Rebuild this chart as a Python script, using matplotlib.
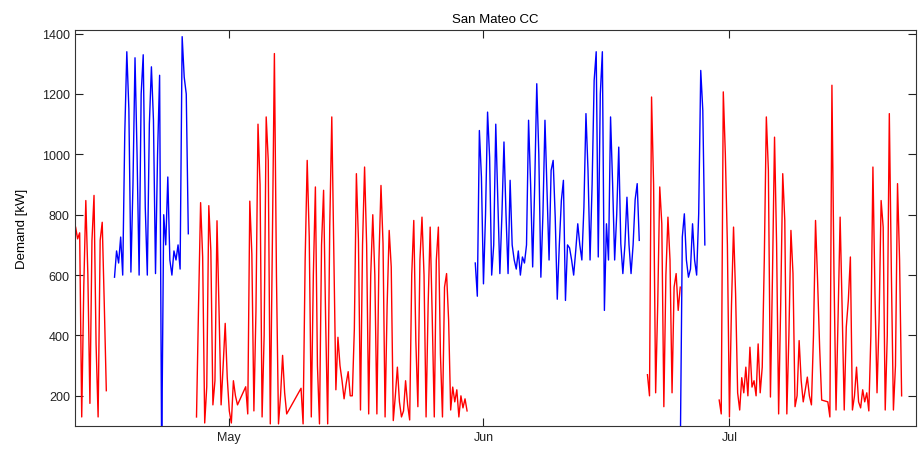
import matplotlib
matplotlib.use('Agg')
import matplotlib.pyplot as plt
import matplotlib.dates as mdates
import numpy as np
import pandas as pd

nan = np.nan

# Building demand in kW, one reading every 6 hours (00, 06, 12, 18h) from each block's start.
# Red blocks are one data source, blue blocks the other; gaps inside a block are nan.
red_apr_start = '2010-04-12 00:00'
red_apr = [480, 760, 720, 740,
           130, 560, 847, 600,
           175, 715, 864, 372,
           130, 715, 775, 505,
           217]

blue_apr_start = '2010-04-17 00:00'
blue_apr = [593, 680, 640, 726,
            600, 1068, 1340, 1150,
            610, 900, 1320, 1000,
            600, 1200, 1330, 825,
            600, 1100, 1290, 1113,
            605, 1000, 1262, 0,
            800, 700, 925, 650,
            600, 680, 650, 700,
            620, 1390, 1256, 1200,
            737]

red_may_start = '2010-04-27 00:00'
red_may = [130, 500, 840, 660,
           110, 230, 830, 680,
           170, 250, 780, 480,
           170, 300, 440, 260,
           150, 110, 250, 200,
           170, nan, nan, nan,
           230, 140, 845, 670,
           150, 480, 1100, 900,
           130, 400, 1124, 980,
           107, 700, 1334, 600,
           107, 200, 334, 210,
           140, nan, nan, nan,
           nan, nan, nan, 225,
           107, 650, 980, 726,
           130, 600, 892, 300,
           107, 700, 881, 450,
           107, 760, 1124, 670,
           220, 394, 300, 250,
           190, 240, 280, 200,
           200, 420, 936, 715,
           153, 700, 958, 700,
           140, 600, 800, 600,
           140, 650, 897, 704,
           130, 500, 748, 627,
           118, 200, 295, 180,
           130, 150, 250, 170,
           120, 600, 781, 383,
           164, 650, 792, 600,
           130, 500, 759, 461,
           130, 650, 759, 339,
           130, 560, 605, 450,
           153, 229, 180, 220,
           130, 200, 160, 190,
           150]

blue_jun_start = '2010-05-31 00:00'
blue_jun = [640, 530, 1079, 925,
            571, 800, 1140, 990,
            600, 700, 1100, 847,
            605, 800, 1041, 800,
            605, 914, 700, 650,
            620, 680, 600, 660,
            640, 700, 1113, 900,
            627, 900, 1234, 1000,
            593, 800, 1113, 881,
            650, 947, 980, 792,
            520, 700, 847, 914,
            516, 700, 690, 650,
            600, 680, 770, 700,
            650, 825, 1135, 947,
            650, 900, 1245, 1340,
            660, 1200, 1340, 483,
            770, 650, 1124, 903,
            650, 800, 1024, 704,
            605, 700, 858, 700,
            605, 700, 850, 903,
            715]

red_jun_start = '2010-06-21 00:00'
red_jun = [270, 200, 1190, 900,
           210, 500, 892, 770,
           164, 600, 792, 650,
           210, 560, 605, 483,
           560]

blue_late_jun_start = '2010-06-25 00:00'
blue_late_jun = [0, 726, 803, 650,
                 593, 620, 770, 650,
                 600, 803, 1278, 1146,
                 700]

red_jul_start = '2010-06-29 18:00'
red_jul = [186,
           140, 1207, 1000, 700,
           130, 500, 759, 538,
           210, 153, 260, 210,
           295, 200, 361, 229,
           250, 200, 372, 210,
           295, 650, 1124, 947,
           196, 600, 1057, 704,
           140, 500, 936, 781,
           140, 400, 748, 605,
           164, 200, 383, 250,
           180, 220, 262, 200,
           170, 400, 781, 582,
           361, 186, nan, nan,
           180, 130, 1229, 605,
           153, 461, 792, 483,
           153, 428, 516, 660,
           153, 200, 295, 180,
           160, 220, 180, 210,
           150, 400, 958, 538,
           210, 450, 847, 759,
           153, 400, 1135, 605,
           153, 300, 903, 650,
           200]

segments = [
    (red_apr_start, red_apr, '#ff0000'),
    (red_may_start, red_may, '#ff0000'),
    (red_jun_start, red_jun, '#ff0000'),
    (red_jul_start, red_jul, '#ff0000'),
    (blue_apr_start, blue_apr, '#0000ff'),
    (blue_jun_start, blue_jun, '#0000ff'),
    (blue_late_jun_start, blue_late_jun, '#0000ff'),
]

plt.rcParams['font.family'] = ['Liberation Sans', 'DejaVu Sans']

fig = plt.figure(figsize=(9.19, 4.52), dpi=100)
ax = fig.add_axes([0.0813, 0.0553, 0.9154, 0.8761])

for start, values, color in segments:
    s = pd.Series(values, index=pd.date_range(start, periods=len(values), freq='6h')).dropna()
    ax.plot(s.index, s.values, color=color, linewidth=1.0)

ax.set_xlim(pd.Timestamp('2010-04-12 03:30'), pd.Timestamp('2010-07-23 18:00'))
ax.set_ylim(100, 1412)
ax.set_yticks(range(200, 1401, 200))
ax.xaxis.set_major_locator(mdates.MonthLocator())
ax.xaxis.set_major_formatter(mdates.DateFormatter('%b'))

ax.tick_params(direction='in', length=6, width=0.8, top=True, right=True,
               labelsize=9, colors='#222222')
for sp in ax.spines.values():
    sp.set_linewidth(0.8)
    sp.set_color('#333333')

ax.set_title('San Mateo CC', fontsize=9.5, pad=6)
ax.set_ylabel('Demand [kW]', fontsize=9.5, labelpad=10)

fig.savefig('out.png', dpi=100)
